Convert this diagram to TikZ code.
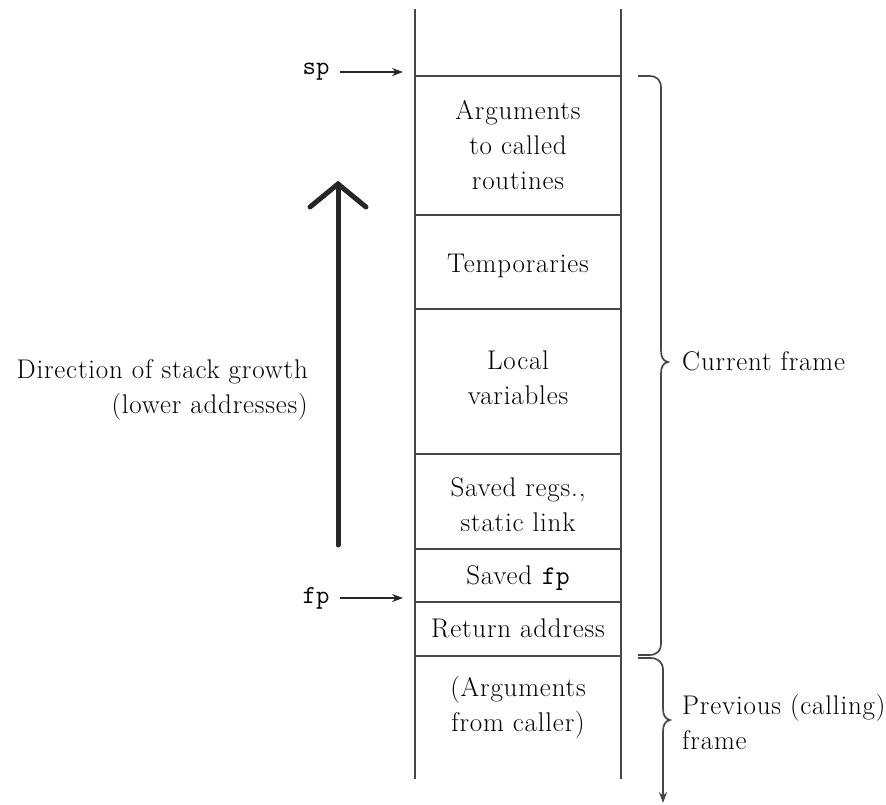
\documentclass[tikz,border=0pt]{standalone}
\usepackage{fontspec}
\setmainfont{Latin Modern Roman}[LetterSpace=3]
\usetikzlibrary{arrows.meta}
\definecolor{ln}{gray}{0.28}
\newcommand{\labfont}{\fontsize{27}{35}\selectfont}
\begin{document}
\begin{tikzpicture}[x=1pt,y=-1pt,
  lab/.style={font=\labfont, align=center, inner sep=0pt},
  reg/.style={font=\fontsize{26}{35}\ttfamily, inner sep=0pt},
  stackline/.style={draw=ln, line width=1.7pt},
  ptr/.style={draw=black!85, line width=1.4pt, -{Stealth[length=11pt,width=8pt]}},
  brc/.style={draw=ln, line width=1.7pt}]
\useasboundingbox (0,0) rectangle (886,804);
% stack walls
\coordinate (lt) at (415,9);
\coordinate (lb) at (415,779);
\coordinate (rt) at (621,9);
\coordinate (rb) at (621,779);
\draw[stackline] (lt) -- (lb);
\draw[stackline] (rt) -- (rb);
% separators
\foreach \y/\n in {76/s0,215/s1,309/s2,454/s3,549/s4,602/s5,656/s6}{
  \coordinate (\n l) at (415,\y);
  \coordinate (\n r) at (621,\y);
  \draw[stackline] (\n l) -- (\n r);
}
% cell labels
\node[lab] (args) at (518,145) {Arguments\\to called\\routines};
\node[lab] (temp) at (518,266) {Temporaries};
\node[lab] (loc) at (518,378) {Local\\variables};
\node[lab] (sav) at (518,505) {Saved regs.,\\static link};
\node[lab] (sfp) at (518,578) {Saved \texttt{fp}};
\node[lab] (ret) at (518,628) {Return address};
\node[lab] (prev) at (518,707) {(Arguments\\from caller)};
% pointers
\node[reg] (sp) at (316,72) {sp};
\coordinate (spt) at (403,72);
\draw[ptr] (340,72) -- (spt);
\node[reg] (fp) at (316,598) {fp};
\coordinate (fpt) at (403,598);
\draw[ptr] (340,598) -- (fpt);
% growth arrow
\coordinate (ga) at (338,545);
\coordinate (gb) at (338,184);
\draw[line width=5pt, draw=black!85, line cap=round] (ga) -- (gb);
\draw[line width=5pt, draw=black!85, line cap=round, line join=miter] (310,207) -- (gb) -- (366,207);
\node[lab, align=right, anchor=east] (dir) at (308,390) {Direction of stack growth\\(lower addresses)};
% current frame brace
\draw[brc] (638,76) -- (649,76) .. controls (657,76) and (661,80) .. (661,88)
  -- (661,350) .. controls (661,357) and (663,361) .. (668,362)
  .. controls (663,363) and (661,367) .. (661,374)
  -- (661,643) .. controls (661,651) and (657,655) .. (649,655) -- (638,655);
\node[lab, anchor=west] (cur) at (682,361) {Current frame};
% previous frame brace
\coordinate (pend) at (663,803);
\draw[brc, -{Stealth[length=11pt,width=8pt]}] (638,658) -- (650,658) .. controls (658,658) and (663,662) .. (663,670)
  -- (663,708) .. controls (663,715) and (665,719) .. (670,720)
  .. controls (665,721) and (663,725) .. (663,732) -- (pend);
\node[lab, align=left, anchor=west] (pf) at (682,722) {Previous (calling)\\frame};
\end{tikzpicture}
\end{document}
